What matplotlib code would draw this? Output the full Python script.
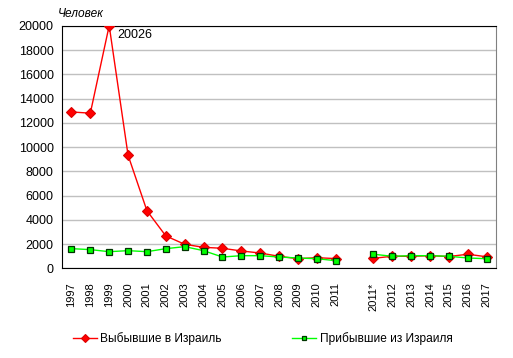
import numpy as np
import matplotlib.pyplot as plt

plt.rcParams['font.family'] = ['Liberation Sans', 'DejaVu Sans']

years = ['1997', '1998', '1999', '2000', '2001', '2002', '2003', '2004', '2005',
         '2006', '2007', '2008', '2009', '2010', '2011', '',
         '2011*', '2012', '2013', '2014', '2015', '2016', '2017']
vybyvshie = [12900, 12800, 20026, 9330, 4750, 2670, 1980, 1730, 1650,
             1430, 1260, 990, 790, 875, 800, np.nan,
             825, 990, 990, 1040, 970, 1160, 950]
pribyvshie = [1620, 1540, 1370, 1455, 1370, 1620, 1785, 1455, 930,
              1040, 1040, 930, 850, 790, 630, np.nan,
              1160, 990, 1040, 1040, 990, 850, 790]

fig = plt.figure(figsize=(5.13, 3.58), dpi=100)
ax = fig.add_axes([0.1209, 0.2506, 0.846, 0.677])

x = np.arange(len(years))
ax.plot(x, vybyvshie, color='#ff0000', lw=1, marker='D', ms=5.5,
        mfc='#ff0000', mec='#dd0000', mew=0.8, label='Выбывшие в Израиль', zorder=3)
ax.plot(x, pribyvshie, color='#00ff00', lw=1, marker='s', ms=4.5,
        mfc='#00ff00', mec='#003300', mew=0.9, label='Прибывшие из Израиля', zorder=4)

ax.annotate('20026', (2, 20026), xytext=(6, -7), textcoords='offset points',
            fontsize=9, va='center')

ax.set_xlim(-0.5, len(years) - 0.5)
ax.set_ylim(0, 20000)
ax.set_yticks(range(0, 20001, 2000))
ax.set_xticks(x)
ax.set_xticklabels(years, rotation=90, fontsize=8)
ax.tick_params(axis='y', length=0, pad=6, labelsize=9)
ax.tick_params(axis='x', length=0, pad=10)
ax.grid(axis='y', color='#c0c0c0', lw=1)
ax.set_axisbelow(True)
for s in ['left', 'bottom', 'top']:
    ax.spines[s].set_color('black')
ax.spines['right'].set_color('#808080')

fig.text(0.113, 0.96, 'Человек', fontsize=8.6, style='italic', va='center')

ax.legend(loc='center', bbox_to_anchor=(0.462, -0.29), ncol=2, frameon=False,
          fontsize=8.6, columnspacing=5.9, handlelength=2.0, handletextpad=0.3,
          markerscale=0.75)

fig.savefig('out.png', dpi=100)
